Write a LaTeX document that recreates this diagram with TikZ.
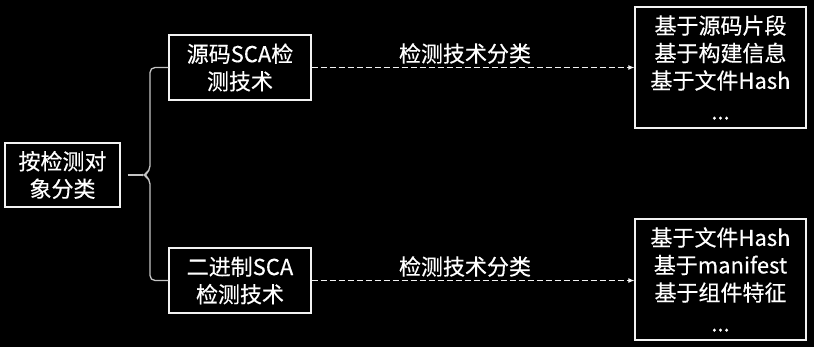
\documentclass[tikz,border=0pt]{standalone}
\usepackage{fontspec}
\setmainfont{Noto Sans CJK SC}[FakeBold=0.4]
\usetikzlibrary{arrows.meta, positioning}
\definecolor{bgblack}{HTML}{000000}
\definecolor{brgray}{HTML}{C4C4C4}
\definecolor{lnwhite}{HTML}{F2F2F2}

\begin{document}
\begin{tikzpicture}[
  x=1pt, y=-1pt,
  >={Latex[length=6pt, width=5pt]},
  box/.style={draw=lnwhite, line width=1.2pt, text=white, align=center,
    inner sep=0pt, font=\fontsize{22}{27.5}\selectfont},
  brace/.style={brgray, line width=1.3pt, rounded corners=5pt},
  dasharrow/.style={->, lnwhite, line width=1pt, dash pattern=on 6pt off 3pt},
  tag/.style={text=white, font=\fontsize{22}{27.5}\selectfont},
]

% Background: 814 x 347 px
\fill[bgblack] (0,0) rectangle (814,347);
\useasboundingbox (0,0) rectangle (814,347);

% --- Boxes ---
\node[box, minimum width=115pt, minimum height=64pt] (root) at (62.5,175)
  {按检测对\\象分类};
\node[box, minimum width=142pt, minimum height=65pt] (src) at (240,67.5)
  {源码SCA检\\测技术};
\node[box, minimum width=142pt, minimum height=65pt] (bin) at (240,280.5)
  {二进制SCA\\检测技术};
\node[box, minimum width=171pt, minimum height=121pt] (srclist) at (720.5,67.5)
  {基于源码片段\\基于构建信息\\基于文件Hash\\[3pt]...};
\node[box, minimum width=171pt, minimum height=121pt] (binlist) at (720.5,279.5)
  {基于文件Hash\\基于manifest\\基于组件特征\\[3pt]...};

% --- Brace ---
\coordinate (tip) at (143,175);
\draw[brgray, line width=1.3pt] ([xshift=7pt]root.east) -- (tip);
\draw[brace] (src.west) -- (150,67.5) -- (150,171) -- (tip)
  -- (150,179) -- (150,280.5) -- (bin.west);

% --- Dashed arrows ---
\draw[dasharrow] (src.east) -- (srclist.west)
  node[tag, pos=0.5, xshift=-8pt, yshift=14pt] (srctag) {检测技术分类};
\draw[dasharrow] (bin.east) -- (binlist.west |- bin.east)
  node[tag, pos=0.5, xshift=-8pt, yshift=14pt] (bintag) {检测技术分类};

\end{tikzpicture}
\end{document}
